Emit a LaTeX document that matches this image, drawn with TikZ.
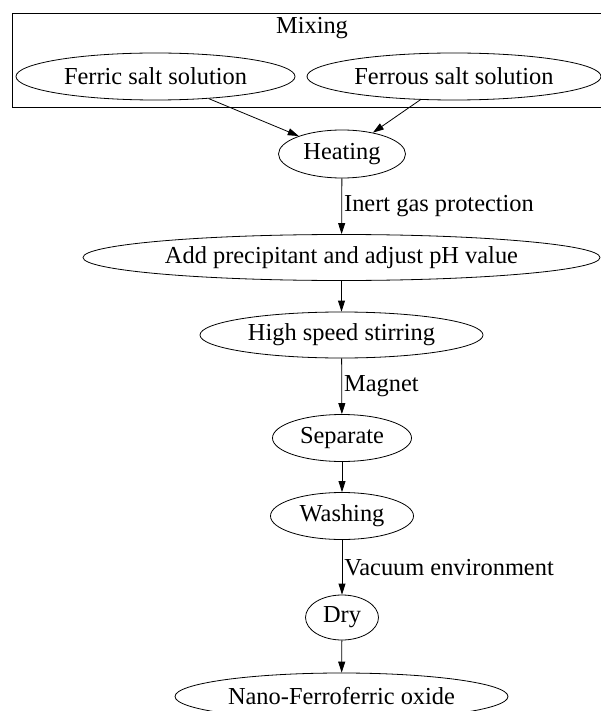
\documentclass[tikz,border=0pt]{standalone}
\usepackage{fontspec}
\setmainfont{Liberation Serif}
\usetikzlibrary{shapes.geometric,arrows.meta}
\newcommand{\tightlbl}[1]{\makebox[0pt]{#1}}
\begin{document}
\begin{tikzpicture}[x=1pt,y=-1pt,
  every node/.style={font=\fontsize{24.4}{28}\selectfont},
  proc/.style={draw, ellipse, inner sep=0pt, line width=0.8pt, minimum height=47pt},
  edge/.style={draw, line width=0.8pt, -{Triangle[length=11pt,width=7pt]}},
  elabel/.style={anchor=west, inner sep=0pt, xshift=2pt}]
\useasboundingbox (0,0) rectangle (601,711);
\clip (0,0) rectangle (601,711);
\node[draw, rectangle, line width=0.8pt, minimum width=600pt, minimum height=94pt, inner sep=0pt] (mixing) at (312.7,60) {};
\node (mixlabel) at (312,28) {Mixing};
\node[proc, minimum width=279pt] (ferric) at (155.5,76.5) {\tightlbl{Ferric salt solution}};
\node[proc, minimum width=294pt] (ferrous) at (454,76.5) {\tightlbl{Ferrous salt solution}};
\node[proc, minimum width=127pt, minimum height=48pt] (heat) at (342,154) {\tightlbl{Heating}};
\node[proc, minimum width=517pt, minimum height=46pt] (add) at (341.5,257.5) {\tightlbl{Add precipitant and adjust pH value}};
\node[proc, minimum width=283pt, minimum height=46pt] (stir) at (341.5,335) {\tightlbl{High speed stirring}};
\node[proc, minimum width=139pt] (sep) at (342,438) {\tightlbl{Separate}};
\node[proc, minimum width=143pt] (wash) at (342,516) {\tightlbl{Washing}};
\node[proc, minimum width=73pt, minimum height=45pt] (dry) at (342,617.5) {\tightlbl{Dry}};
\node[proc, minimum width=333pt] (nano) at (341.5,696.5) {\tightlbl{Nano-Ferroferric oxide}};
\draw[edge] (ferric) -- (heat);
\draw[edge] (ferrous) -- (heat);
\draw[edge] (heat) -- node[elabel] (l1) {Inert gas protection} (add);
\draw[edge] (add) -- (stir);
\draw[edge] (stir) -- node[elabel] (l2) {Magnet} (sep);
\draw[edge] (sep) -- (wash);
\draw[edge] (wash) -- node[elabel] (l3) {Vacuum environment} (dry);
\draw[edge] (dry) -- (nano);
\end{tikzpicture}
\end{document}
